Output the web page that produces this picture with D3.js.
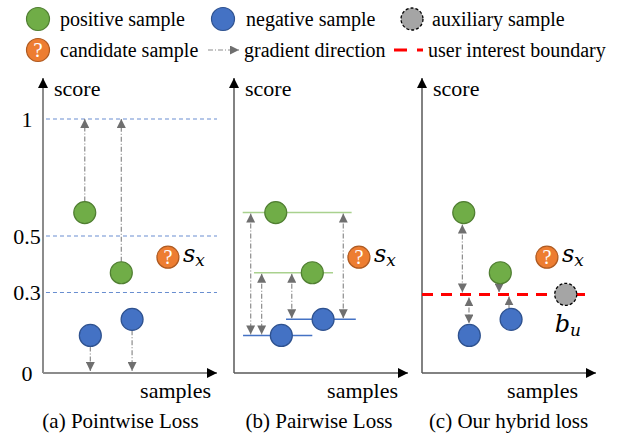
<!DOCTYPE html>
<html><head>
<script src="https://cdn.jsdelivr.net/npm/d3@7"></script>
<style>
body{margin:0}
text{font-family:"Liberation Serif" !important}
text.math, text.math tspan{font-family:"DejaVu Serif" !important;font-style:italic}
</style>
</head><body style="margin:0">
<script>
// ---- data ----
const panelTitles = ["(a) Pointwise Loss", "(b) Pairwise Loss", "(c) Our hybrid loss"];
const scoreTicks = [0, 0.3, 0.5, 1];
const tickLabels = ["0", "0.3", "0.5", "1"];
const positiveScores = [0.60, 0.37];
const positiveX = [0.24, 0.45];
const negativeScores = [0.14, 0.20];
const negativeX = [0.272, 0.512];
const candidateScore = 0.425;
const candidateX = 0.718;
const auxScore = 0.293;
const auxX = 0.826;
const boundaryScore = 0.293;
const legendItems = ["positive sample", "negative sample", "auxiliary sample",
  "candidate sample", "gradient direction", "user interest boundary"];
// pairwise reference lines (panel b): [score, xStart, xEnd, type]
const pairLines = [[0.60, 0.05, 0.676, "pos"], [0.37, 0.115, 0.569, "pos"],
  [0.14, 0.052, 0.45, "neg"], [0.20, 0.299, 0.70, "neg"]];
// pairwise gradient arrows: [x, fromScore(pos), toScore(neg)]
const pairArrows = [[0.096, 0.60, 0.14], [0.159, 0.37, 0.14], [0.332, 0.37, 0.20], [0.628, 0.60, 0.20]];

// ---- colours ----
const C = {pos:"#70ad47", posS:"#507e32", neg:"#4472c4", negS:"#2f528f", cand:"#ed7d31", candS:"#ae5a21",
  aux:"#a5a5a5", arrow:"#8c8c8c", head:"#6f6f6f", ref:"#4472c4", posLine:"#a9d18e", red:"#ff0000"};
const SERIF = "Liberation Serif", MATH = "DejaVu Serif";

const W = 623, H = 434;
const svg = d3.select("body").append("svg").attr("width", W).attr("height", H);

const defs = svg.append("defs");
function marker(id, color, w, h) {
  defs.append("marker").attr("id", id).attr("viewBox", "0 0 10 10").attr("refX", 10).attr("refY", 5)
    .attr("markerWidth", w).attr("markerHeight", h).attr("markerUnits", "userSpaceOnUse").attr("orient", "auto-start-reverse")
    .append("path").attr("d", "M0,0L10,5L0,10Z").attr("fill", color);
}
marker("axisHead", "#000", 10, 10);
marker("gradHead", C.head, 9, 9);

const y = d3.scaleLinear().domain(scoreTicks).range([373, 292.5, 236, 119]);
const origins = [43, 234, 422];
const axisLen = 174;
const samplesEnd = [211, 398, 578];
const captionCx = [120.5, 319, 508.5];
const R = 11;

function txt(g, x, yy, s, size) {
  return g.append("text").attr("x", x).attr("y", yy).attr("font-family", SERIF).attr("font-size", size).attr("fill", "#000").text(s);
}
function gradArrow(g, x1, y1, x2, y2, both) {
  g.append("line").attr("x1", x1).attr("y1", y1).attr("x2", x2).attr("y2", y2)
    .attr("stroke", C.arrow).attr("stroke-width", 1.2).attr("stroke-dasharray", "5,2,1,2")
    .attr("marker-end", "url(#gradHead)").attr("marker-start", both ? "url(#gradHead)" : null);
}
function dot(g, cx, cy, fill, stroke) {
  g.append("circle").attr("cx", cx).attr("cy", cy).attr("r", R).attr("fill", fill).attr("stroke", stroke).attr("stroke-width", 1.2);
}
function candidate(g, cx, cy, r) {
  g.append("circle").attr("cx", cx).attr("cy", cy).attr("r", r).attr("fill", C.cand).attr("stroke", C.candS).attr("stroke-width", 1.2);
  g.append("text").attr("x", cx).attr("y", cy + r * 0.62).attr("text-anchor", "middle").attr("fill", "#fff")
    .attr("font-family", SERIF).attr("font-size", r * 1.85).text("?");
}
function mathLabel(g, x, yb, main, sub) {
  const t = g.append("text").attr("class", "math").attr("x", x).attr("y", yb).attr("font-family", MATH).attr("font-style", "italic").attr("fill", "#000");
  t.append("tspan").attr("font-size", 24).text(main);
  t.append("tspan").attr("font-size", 17).attr("dy", 4).text(sub);
}

panelTitles.forEach((title, i) => {
  const g = svg.append("g");
  const ox = origins[i];
  const x = d3.scaleLinear().domain([0, 1]).range([ox, ox + axisLen]);
  const axisColor = i === 0 ? "#8c8c8c" : "#595959";

  // axes
  g.append("line").attr("x1", ox).attr("y1", y(0)).attr("x2", ox).attr("y2", 78)
    .attr("stroke", axisColor).attr("stroke-width", i === 0 ? 2 : 1.5).attr("marker-end", "url(#axisHead)");
  g.append("line").attr("x1", ox).attr("y1", y(0)).attr("x2", ox + axisLen).attr("y2", y(0))
    .attr("stroke", axisColor).attr("stroke-width", i === 0 ? 2 : 1.5).attr("marker-end", "url(#axisHead)");
  txt(g, ox + 11, 96, "score", 22);
  txt(g, samplesEnd[i], 398, "samples", 22).attr("text-anchor", "end");
  txt(g, captionCx[i], 428, title, 21).attr("text-anchor", "middle");

  if (i === 0) {
    const ax = g.append("g").attr("transform", `translate(${ox},0)`)
      .call(d3.axisLeft(y).tickValues(scoreTicks).tickFormat((d, k) => tickLabels[k]).tickSize(0).tickPadding(16));
    ax.select(".domain").remove();
    ax.attr("font-family", SERIF).attr("font-size", 22).attr("text-anchor", "middle");
    ax.selectAll("text").attr("font-family", SERIF).attr("font-size", 22).attr("fill", "#000").attr("text-anchor", "middle");
    // reference dashed lines
    g.selectAll(".ref").data(scoreTicks.filter(d => d > 0)).join("line")
      .attr("x1", x(0.017)).attr("x2", x(1.0)).attr("y1", d => y(d)).attr("y2", d => y(d))
      .attr("stroke", C.ref).attr("stroke-opacity", 0.8).attr("stroke-width", 1.2).attr("stroke-dasharray", "4,3");
    positiveScores.forEach((s, k) => gradArrow(g, x(positiveX[k]), y(s) - R, x(positiveX[k]), y(1), false));
    negativeScores.forEach((s, k) => gradArrow(g, x(negativeX[k]), y(s) + R, x(negativeX[k]), y(0) - 2, false));
  }
  if (i === 1) {
    pairLines.forEach(([s, a, b, t]) => g.append("line").attr("x1", x(a)).attr("x2", x(b)).attr("y1", y(s)).attr("y2", y(s))
      .attr("stroke", t === "pos" ? C.posLine : C.neg).attr("stroke-width", 1.5));
    pairArrows.forEach(([px, a, b]) => gradArrow(g, x(px), y(a) + 1, x(px), y(b) - 1, true));
  }
  if (i === 2) {
    g.append("line").attr("x1", x(0)).attr("x2", x(0.975)).attr("y1", y(boundaryScore)).attr("y2", y(boundaryScore))
      .attr("stroke", C.red).attr("stroke-width", 3).attr("stroke-dasharray", "11,8");
    const yb = y(boundaryScore);
    gradArrow(g, x(0.232), y(positiveScores[0]) + R + 1, x(0.232), yb - 2, true);
    gradArrow(g, x(0.27), yb + 3, x(0.27), y(negativeScores[0]) - R - 1, true);
    gradArrow(g, x(0.443), y(positiveScores[1]) + R, x(0.443), yb - 2, false);
    gradArrow(g, x(0.50), y(negativeScores[1]) - R, x(0.50), yb + 2, false);
    g.append("circle").attr("cx", x(auxX)).attr("cy", y(auxScore)).attr("r", R).attr("fill", C.aux)
      .attr("stroke", "#000").attr("stroke-width", 1.3).attr("stroke-dasharray", "3,2");
    mathLabel(g, x(auxX) - 11, 332, "b", "u");
  }
  positiveScores.forEach((s, k) => dot(g, x(positiveX[k]), y(s), C.pos, C.posS));
  negativeScores.forEach((s, k) => dot(g, x(negativeX[k]), y(s), C.neg, C.negS));
  candidate(g, x(candidateX), y(candidateScore), 11);
  mathLabel(g, x(candidateX) + 15, 262, "s", "x");
});

// ---- legend ----
const lg = svg.append("g");
const row1 = 19, row2 = 50;
[[38, C.pos, C.posS, 60, 0], [223, C.neg, C.negS, 246, 1]].forEach(([cx, f, s, tx, k]) => {
  lg.append("circle").attr("cx", cx).attr("cy", row1).attr("r", 11.5).attr("fill", f).attr("stroke", s).attr("stroke-width", 1.2);
  txt(lg, tx, row1 + 7, legendItems[k], 20);
});
lg.append("circle").attr("cx", 412).attr("cy", row1).attr("r", 11).attr("fill", C.aux).attr("stroke", "#000")
  .attr("stroke-width", 1.3).attr("stroke-dasharray", "3,2");
txt(lg, 432, row1 + 7, legendItems[2], 20);
candidate(lg, 38, row2, 11.5);
txt(lg, 60, row2 + 7, legendItems[3], 20);
lg.append("line").attr("x1", 208).attr("x2", 239).attr("y1", row2).attr("y2", row2)
  .attr("stroke", C.arrow).attr("stroke-width", 1.2).attr("stroke-dasharray", "5,2,1,2").attr("marker-end", "url(#gradHead)");
txt(lg, 244, row2 + 7, legendItems[4], 20);
lg.append("line").attr("x1", 394).attr("x2", 423).attr("y1", row2).attr("y2", row2)
  .attr("stroke", C.red).attr("stroke-width", 3).attr("stroke-dasharray", "13,10");
txt(lg, 428, row2 + 7, legendItems[5], 20);
</script>
</body></html>
